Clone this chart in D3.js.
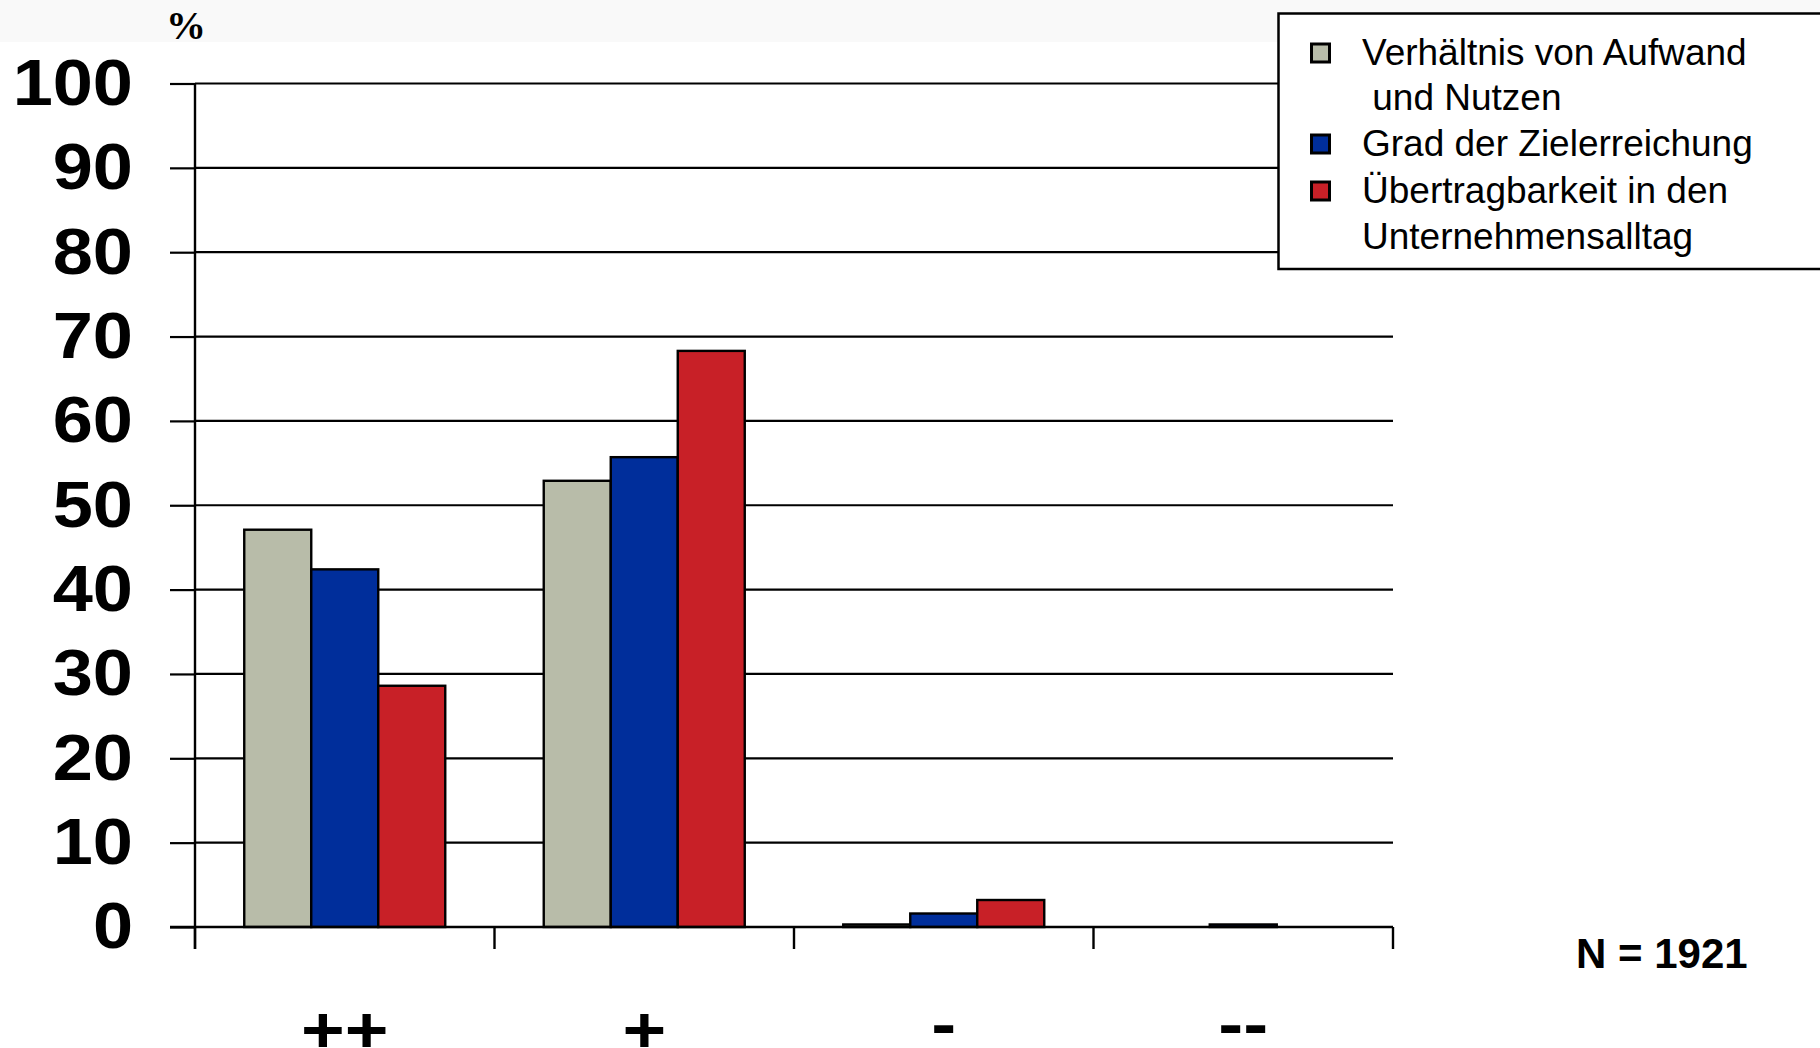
<!DOCTYPE html>
<html>
<head>
<meta charset="utf-8">
<script src="https://cdn.jsdelivr.net/npm/d3@7"></script>
<style>
  html, body { margin: 0; padding: 0; background: #fff; }
  svg { display: block; }
  text { font-family: "Liberation Sans", Arial, Helvetica, sans-serif; }
</style>
</head>
<body>
<svg id="chart" width="1820" height="1048"></svg>
<script>
// Rating categories (very good ... very poor)
const categories = ["++", "+", "-", "--"];

// Share of answers in percent, one array per rated aspect
const verhaeltnis = [47.1, 52.9, 0.3, 0];
const zielerreichung = [42.4, 55.7, 1.6, 0.3];
const uebertragbarkeit = [28.6, 68.3, 3.2, 0];

const seriesKeys = ["verhaeltnis", "zielerreichung", "uebertragbarkeit"];
const seriesColors = ["#b8bca9", "#002e9b", "#c82027"];

// Legend entries, each possibly spread over two lines
const legendLabels = [
  ["Verhältnis von Aufwand", " und Nutzen"],
  ["Grad der Zielerreichung"],
  ["Übertragbarkeit in den", "Unternehmensalltag"]
];

const yTicks = [0, 10, 20, 30, 40, 50, 60, 70, 80, 90, 100];
const sampleNote = "N = 1921";
const unitLabel = "%";

const seriesValues = [verhaeltnis, zielerreichung, uebertragbarkeit];
const rows = categories.map((c, i) => ({
  category: c,
  values: seriesKeys.map((k, j) => ({ key: k, idx: j, value: seriesValues[j][i] }))
}));

const svg = d3.select("#chart");

// faint header band
svg.append("rect")
  .attr("x", 0).attr("y", 0).attr("width", 1820).attr("height", 42)
  .attr("fill", "#f9f9f9");

const x0 = d3.scaleBand().domain(categories).range([195, 1393]);
const x1 = d3.scaleBand().domain(d3.range(seriesKeys.length))
  .range([0, x0.bandwidth()]).paddingOuter(0.735);
const y = d3.scaleLinear().domain([0, 100]).range([927, 83.5]);

// horizontal grid
svg.append("g").attr("class", "grid")
  .selectAll("line").data(yTicks).join("line")
  .attr("x1", 195).attr("x2", 1393)
  .attr("y1", d => y(d)).attr("y2", d => y(d))
  .attr("stroke", "#000").attr("stroke-width", 2.2);

// y axis with outward ticks
const yAxis = svg.append("g")
  .attr("transform", "translate(195,0)")
  .call(d3.axisLeft(y).tickValues(yTicks).tickSizeInner(25).tickSizeOuter(0));
yAxis.select(".domain").remove();
yAxis.selectAll(".tick line").attr("stroke", "#000").attr("stroke-width", 2.2);
yAxis.selectAll(".tick text")
  .attr("x", null)
  .attr("transform", "translate(-62,0) scale(1.11,1)")
  .attr("fill", "#000")
  .style("font-family", "'Liberation Sans', Arial, sans-serif")
  .style("font-weight", "bold")
  .style("font-size", "65px");

// bars
const groups = svg.append("g").selectAll("g").data(rows).join("g")
  .attr("transform", d => `translate(${x0(d.category)},0)`);
groups.selectAll("rect").data(d => d.values).join("rect")
  .attr("x", d => x1(d.idx))
  .attr("width", x1.bandwidth())
  .attr("y", d => y(d.value))
  .attr("height", d => y(0) - y(d.value))
  .attr("fill", d => seriesColors[d.idx])
  .attr("stroke", "#000").attr("stroke-width", 2.4);

// vertical axis line and category boundary ticks
svg.append("line")
  .attr("x1", 195).attr("x2", 195).attr("y1", y(100)).attr("y2", 949)
  .attr("stroke", "#000").attr("stroke-width", 2.4);
const bounds = categories.map(c => x0(c)).concat([x0.range()[1]]);
svg.append("g").selectAll("line").data(bounds).join("line")
  .attr("x1", d => d).attr("x2", d => d)
  .attr("y1", y(0)).attr("y2", 949)
  .attr("stroke", "#000").attr("stroke-width", 2.4);
svg.append("line")
  .attr("x1", 170).attr("x2", 1393).attr("y1", y(0)).attr("y2", y(0))
  .attr("stroke", "#000").attr("stroke-width", 2.4);

// category labels
const xAxis = svg.append("g")
  .attr("transform", "translate(0,1052)")
  .call(d3.axisBottom(x0).tickSize(0).tickPadding(0));
xAxis.select(".domain").remove();
xAxis.selectAll(".tick text")
  .attr("y", null).attr("dy", d => d.indexOf("+") >= 0 ? 0 : -6)
  .attr("transform", "scale(1.17,1)")
  .attr("fill", "#000")
  .style("font-family", "'Liberation Sans', Arial, sans-serif")
  .style("font-weight", "bold")
  .style("font-size", "64px");

// unit label
svg.append("text")
  .attr("x", 166).attr("y", 39)
  .style("font-family", "'Liberation Serif', 'Times New Roman', serif")
  .style("font-weight", "bold")
  .style("font-size", "40px")
  .text(unitLabel);

// sample size
svg.append("text")
  .attr("x", 1576).attr("y", 968)
  .style("font-weight", "bold")
  .style("font-size", "42px")
  .text(sampleNote);

// legend
const legend = svg.append("g");
legend.append("rect")
  .attr("x", 1278.5).attr("y", 13.5).attr("width", 560).attr("height", 255.5)
  .attr("fill", "#fff").attr("stroke", "#000").attr("stroke-width", 2.5);
const baselines = [[65, 110], [156], [203, 249]];
legendLabels.forEach((lines, i) => {
  legend.append("rect")
    .attr("x", 1311.5).attr("y", baselines[i][0] - 21)
    .attr("width", 18).attr("height", 18)
    .attr("fill", seriesColors[i]).attr("stroke", "#000").attr("stroke-width", 3);
  lines.forEach((t, k) => {
    legend.append("text")
      .attr("x", 1362).attr("y", baselines[i][k])
      .attr("xml:space", "preserve")
      .style("white-space", "pre")
      .style("font-family", "'Liberation Sans', Arial, sans-serif")
      .style("font-size", "37px")
      .text(t);
  });
});
</script>
</body>
</html>
